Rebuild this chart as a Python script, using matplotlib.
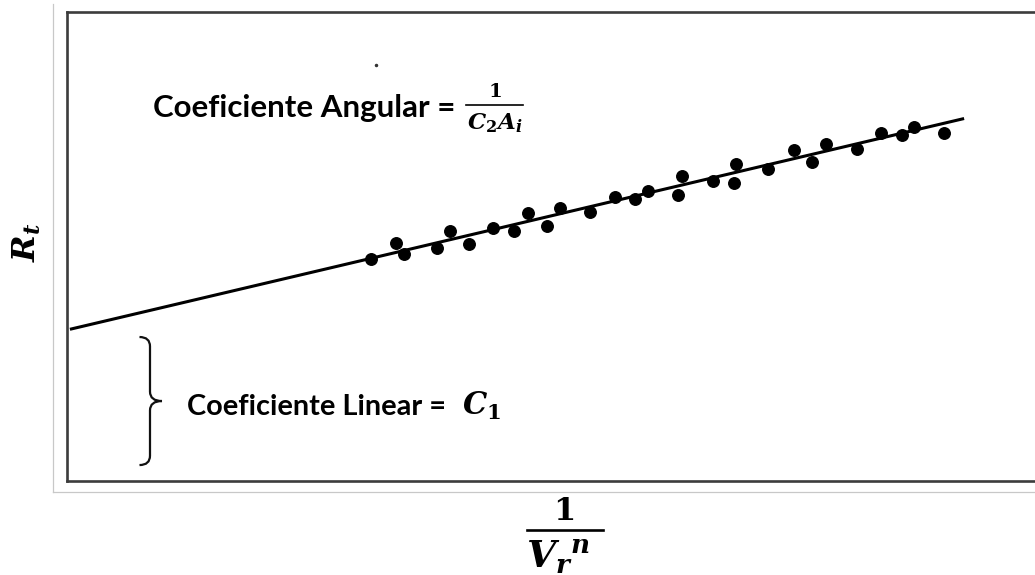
import matplotlib
matplotlib.use('Agg')
import matplotlib.pyplot as plt
import numpy as np
from matplotlib.lines import Line2D
from matplotlib.path import Path
from matplotlib.patches import PathPatch

plt.rcParams['mathtext.fontset'] = 'custom'
plt.rcParams['mathtext.rm'] = 'DejaVu Serif'
plt.rcParams['mathtext.it'] = 'DejaVu Serif:italic'
plt.rcParams['mathtext.bf'] = 'DejaVu Serif:bold'
plt.rcParams['mathtext.bfit'] = 'DejaVu Serif:italic:bold'

# measured points: x = 1/Vr^n, y = Rt (arbitrary units)
inv_vr = [3.12, 3.38, 3.46, 3.80, 3.94, 4.13, 4.38, 4.59, 4.74, 4.93,
          5.07, 5.38, 5.63, 5.84, 5.97, 6.28, 6.32, 6.64, 6.85, 6.88,
          7.20, 7.47, 7.66, 7.80, 8.12, 8.37, 8.58, 8.70, 9.01]
rt = [4.73, 5.07, 4.84, 4.96, 5.32, 5.05, 5.40, 5.34, 5.71, 5.44,
      5.83, 5.73, 6.06, 6.01, 6.19, 6.09, 6.50, 6.40, 6.35, 6.76,
      6.65, 7.06, 6.80, 7.18, 7.07, 7.43, 7.37, 7.54, 7.43]

# fitted line
intercept = 3.22
slope = 0.489
fit_x = [0.03, 9.22]

W, H = 1035, 575
fig = plt.figure(figsize=(W / 100, H / 100), dpi=100)
ax = fig.add_axes([67 / W, 1 - 481 / H, 973 / W, 469 / H])
ax.set_xlim(0, 10)
ax.set_ylim(0, 10)
ax.set_xticks([])
ax.set_yticks([])
for s in ax.spines.values():
    s.set_color('#3c3c3c')
    s.set_linewidth(1.9)

fx = np.array(fit_x)
ax.plot(fx, intercept + slope * fx, color='black', lw=2.2, solid_capstyle='butt')
ax.plot(inv_vr, rt, 'o', color='black', markersize=8.3)

# curly brace marking the intercept
x0, xm, xt = 0.745, 0.853, 0.976
yb, yt = 0.34, intercept - 0.15
ym = (yb + yt) / 2
r = 0.2
verts = [(x0, yt), (xm, yt), (xm, yt - r),
         (xm, ym + r), (xm, ym), (xt, ym),
         (xm, ym), (xm, ym - r),
         (xm, yb + r), (xm, yb), (x0, yb)]
codes = [Path.MOVETO, Path.CURVE3, Path.CURVE3,
         Path.LINETO, Path.CURVE3, Path.CURVE3,
         Path.CURVE3, Path.CURVE3,
         Path.LINETO, Path.CURVE3, Path.CURVE3]
ax.add_patch(PathPatch(Path(verts, codes), fill=False, lw=1.6, color='#111111'))

# texts
fig.text(153 / W, 1 - 117 / H, 'Coeficiente Angular =', family='Lato',
         weight='bold', fontsize=22.5, va='baseline', ha='left')
fig.text(495 / W, 1 - 97 / H, r'$\mathbf{1}$', fontsize=14, ha='center', va='baseline')
fig.add_artist(Line2D([466 / W, 523 / W], [1 - 105 / H, 1 - 105 / H], color='black', lw=1.2))
fig.text(495 / W, 1 - 129 / H, r'$\mathbfit{C}_{\mathbf{2}}\mathbfit{A}_{\mathbfit{i}}$',
         fontsize=16.5, ha='center', va='baseline')

fig.text(187 / W, 1 - 415 / H, 'Coeficiente Linear =', family='Lato',
         weight='bold', fontsize=20.8, va='baseline', ha='left')
fig.text(462 / W, 1 - 415 / H, r'$\mathbfit{C}_{\mathbf{1}}$', fontsize=22,
         va='baseline', ha='left')

# axis labels
fig.text(27 / W, 1 - 242 / H, r'$\mathbfit{R}_{\mathbfit{t}}$', fontsize=23,
         rotation=90, ha='center', va='center')
fig.text(564 / W, 1 - 520 / H, r'$\mathbf{1}$', fontsize=23, ha='center', va='baseline')
fig.add_artist(Line2D([527 / W, 603 / W], [1 - 530 / H, 1 - 530 / H], color='black', lw=1.9))
fig.text(526 / W, 1 - 567 / H, r'${\mathbfit{V}_{\mathbfit{r}}}^{\mathbfit{n}}$',
         fontsize=27, ha='left', va='baseline')

# light outer frame and stray mark from the source image
fig.add_artist(Line2D([53 / W, 53 / W], [1 - 4 / H, 1 - 492 / H], color='#c8c8c8', lw=0.9))
fig.add_artist(Line2D([53 / W, 1], [1 - 492 / H, 1 - 492 / H], color='#c8c8c8', lw=0.9))
fig.add_artist(Line2D([376 / W], [1 - 65 / H], marker='o', markersize=1.5, color='#333333'))

fig.savefig('out.png', dpi=100)
